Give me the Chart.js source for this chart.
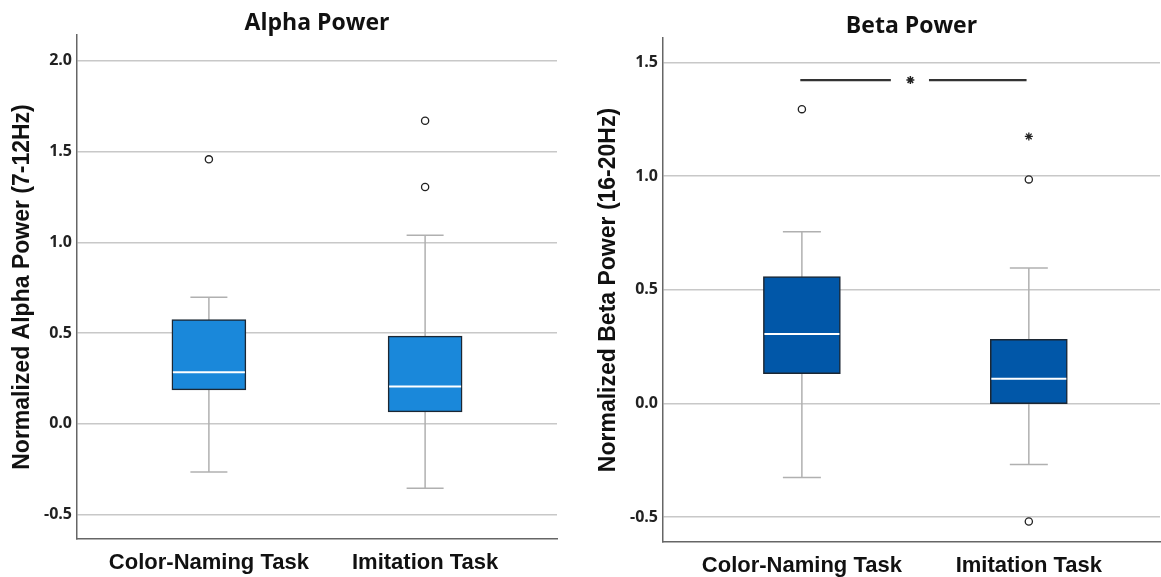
<!DOCTYPE html>
<html>
<head>
<meta charset="utf-8">
<script src="https://cdn.jsdelivr.net/npm/chart.js@4.4.0/dist/chart.umd.min.js"></script>
<style>
body { margin: 0; background: #fff; width: 1161px; height: 577px; overflow: hidden; position: relative; }
#alphaBox { position: absolute; left: 0; top: 0; width: 565px; height: 577px; }
#betaBox { position: absolute; left: 586px; top: 3px; width: 575px; height: 577px; }
</style>
</head>
<body>
<div id="alphaBox"><canvas id="alphaChart"></canvas></div>
<div id="betaBox"><canvas id="betaChart"></canvas></div>
<script>
const categories = ["Color-Naming Task", "Imitation Task"];

// alpha power (7-12Hz), one value per task
const alphaMin = [-0.265, -0.354];
const alphaQ1 = [0.187, 0.066];
const alphaMedian = [0.285, 0.206];
const alphaQ3 = [0.575, 0.483];
const alphaMax = [0.698, 1.039];
const alphaOutliers = [[1.457], [1.305, 1.670]];
const alphaExtremes = [[], []];
const alphaTicks = [-0.5, 0.0, 0.5, 1.0, 1.5, 2.0];

// beta power (16-20Hz)
const betaMin = [-0.326, -0.269];
const betaQ1 = [0.130, -0.002];
const betaMedian = [0.305, 0.108];
const betaQ3 = [0.557, 0.282];
const betaMax = [0.755, 0.595];
const betaOutliers = [[1.294], [0.985, -0.520]];
const betaExtremes = [[], [1.174]];
const betaTicks = [-0.5, 0.0, 0.5, 1.0, 1.5];

// significance bracket between the two beta tasks
const sigY = 1.422;
const sigSegments = [[0.993, 1.392], [1.560, 1.990]];
const sigStarX = 1.478;

const gridGray = '#c8c8c8';
const whiskerGray = '#b0b0b0';

function buildChart(id, o) {
	var datasets = [];
	var pts = function (arr) {
		var out = [];
		arr.forEach(function (list, i) {
			list.forEach(function (v) { out.push({ x: i + 1, y: v }); });
		});
		return out;
	};

	datasets.push({
		type: 'scatter', order: 0,
		data: o.median.map(function (v, i) { return { x: i + 1, y: v }; }),
		pointStyle: 'line', pointRadius: o.boxWidth / 2 - 1,
		borderColor: '#ffffff', pointBorderColor: '#ffffff', pointBorderWidth: 2
	});
	datasets.push({
		type: 'scatter', order: 0,
		data: pts(o.outliers),
		pointStyle: 'circle', pointRadius: 3.6,
		pointBackgroundColor: '#ffffff', pointBorderColor: '#222', pointBorderWidth: 1.3
	});
	datasets.push({
		type: 'scatter', order: 0,
		data: pts(o.extremes),
		pointStyle: 'star', pointRadius: 4,
		pointBorderColor: '#222', pointBorderWidth: 1.3
	});
	datasets.push({
		type: 'bar', order: 1,
		data: o.q1.map(function (v, i) { return { x: i + 1, y: [v, o.q3[i]] }; }),
		backgroundColor: o.color, borderColor: '#1c2733', borderWidth: 1.5,
		borderSkipped: false, barThickness: o.boxWidth
	});
	var caps = o.min.map(function (v, i) { return { x: i + 1, y: v }; })
		.concat(o.max.map(function (v, i) { return { x: i + 1, y: v }; }));
	datasets.push({
		type: 'scatter', order: 2,
		data: caps,
		pointStyle: 'line', pointRadius: o.capWidth / 2,
		pointBorderColor: whiskerGray, pointBorderWidth: 1.5
	});
	o.min.forEach(function (v, i) {
		datasets.push({
			type: 'line', order: 3,
			data: [{ x: i + 1, y: v }, { x: i + 1, y: o.max[i] }],
			borderColor: whiskerGray, borderWidth: 1.5, pointRadius: 0
		});
	});
	if (o.sig) {
		o.sig.segments.forEach(function (seg) {
			datasets.push({
				type: 'line', order: 0,
				data: [{ x: seg[0], y: o.sig.y }, { x: seg[1], y: o.sig.y }],
				borderColor: '#333', borderWidth: 2.2, pointRadius: 0
			});
		});
		datasets.push({
			type: 'scatter', order: 0,
			data: [{ x: o.sig.star, y: o.sig.y }],
			pointStyle: 'star', pointRadius: 4,
			pointBorderColor: '#222', pointBorderWidth: 1.5
		});
	}

	return new Chart(document.getElementById(id), {
		type: 'bar',
		data: { datasets: datasets },
		options: {
			responsive: true,
			maintainAspectRatio: false,
			animation: false,
			events: [],
			layout: { padding: o.padding, autoPadding: false },
			plugins: {
				legend: { display: false },
				tooltip: { enabled: false },
				title: {
					display: true,
					fullSize: false,
					text: o.title,
					color: '#111',
					font: { family: 'Open Sans', weight: 'bold', size: 23, lineHeight: 1 },
					padding: { top: 12, bottom: 0 }
				}
			},
			scales: {
				x: {
					type: 'linear',
					offset: false,
					min: o.xMin,
					max: o.xMax,
					afterBuildTicks: function (s) {
						s.ticks = categories.map(function (c, i) { return { value: i + 1 }; });
					},
					afterFit: function (s) {
						s.height = 38;
						s.paddingLeft = 0;
						s.paddingRight = 0;
					},
					ticks: {
						autoSkip: false,
						maxRotation: 0,
						padding: 11,
						color: '#111',
						font: { family: 'Liberation Sans', weight: 'bold', size: 22 },
						callback: function (v) { return categories[v - 1]; }
					},
					grid: { display: false, drawTicks: false },
					border: { display: true, color: '#666', width: 1.5 }
				},
				y: {
					type: 'linear',
					min: o.yMin,
					max: o.yMax,
					afterBuildTicks: function (s) {
						s.ticks = o.ticks.map(function (v) { return { value: v }; });
					},
					afterFit: function (s) {
						s.width = 77;
						s.paddingTop = 0;
						s.paddingBottom = 0;
					},
					ticks: {
						padding: 5,
						color: '#222',
						font: { family: 'Open Sans', weight: 'bold', size: 16 },
						callback: function (v) { return v.toFixed(1); }
					},
					grid: { color: gridGray, lineWidth: 1.5, drawTicks: false },
					border: { color: '#666', width: 1.5 },
					title: {
						display: true,
						text: o.yTitle,
						color: '#111',
						font: { family: 'Liberation Sans', weight: 'bold', size: 23 },
						padding: { top: 9, bottom: 0 }
					}
				}
			}
		}
	});
}

buildChart('alphaChart', {
	title: 'Alpha Power',
	yTitle: 'Normalized Alpha Power (7-12Hz)',
	color: '#1a88da',
	min: alphaMin, q1: alphaQ1, median: alphaMedian, q3: alphaQ3, max: alphaMax,
	outliers: alphaOutliers, extremes: alphaExtremes, ticks: alphaTicks,
	yMin: -0.634, yMax: 2.142,
	xMin: 0.390, xMax: 2.610,
	boxWidth: 74, capWidth: 37,
	padding: { top: 0, right: 8, bottom: 0, left: 0 }
});

buildChart('betaChart', {
	title: 'Beta Power',
	yTitle: 'Normalized Beta Power (16-20Hz)',
	color: '#0157a8',
	min: betaMin, q1: betaQ1, median: betaMedian, q3: betaQ3, max: betaMax,
	outliers: betaOutliers, extremes: betaExtremes, ticks: betaTicks,
	yMin: -0.61, yMax: 1.607,
	xMin: 0.388, xMax: 2.578,
	boxWidth: 77, capWidth: 38,
	sig: { y: sigY, segments: sigSegments, star: sigStarX },
	padding: { top: 0, right: 1, bottom: 0, left: 0 }
});
</script>
</body>
</html>
